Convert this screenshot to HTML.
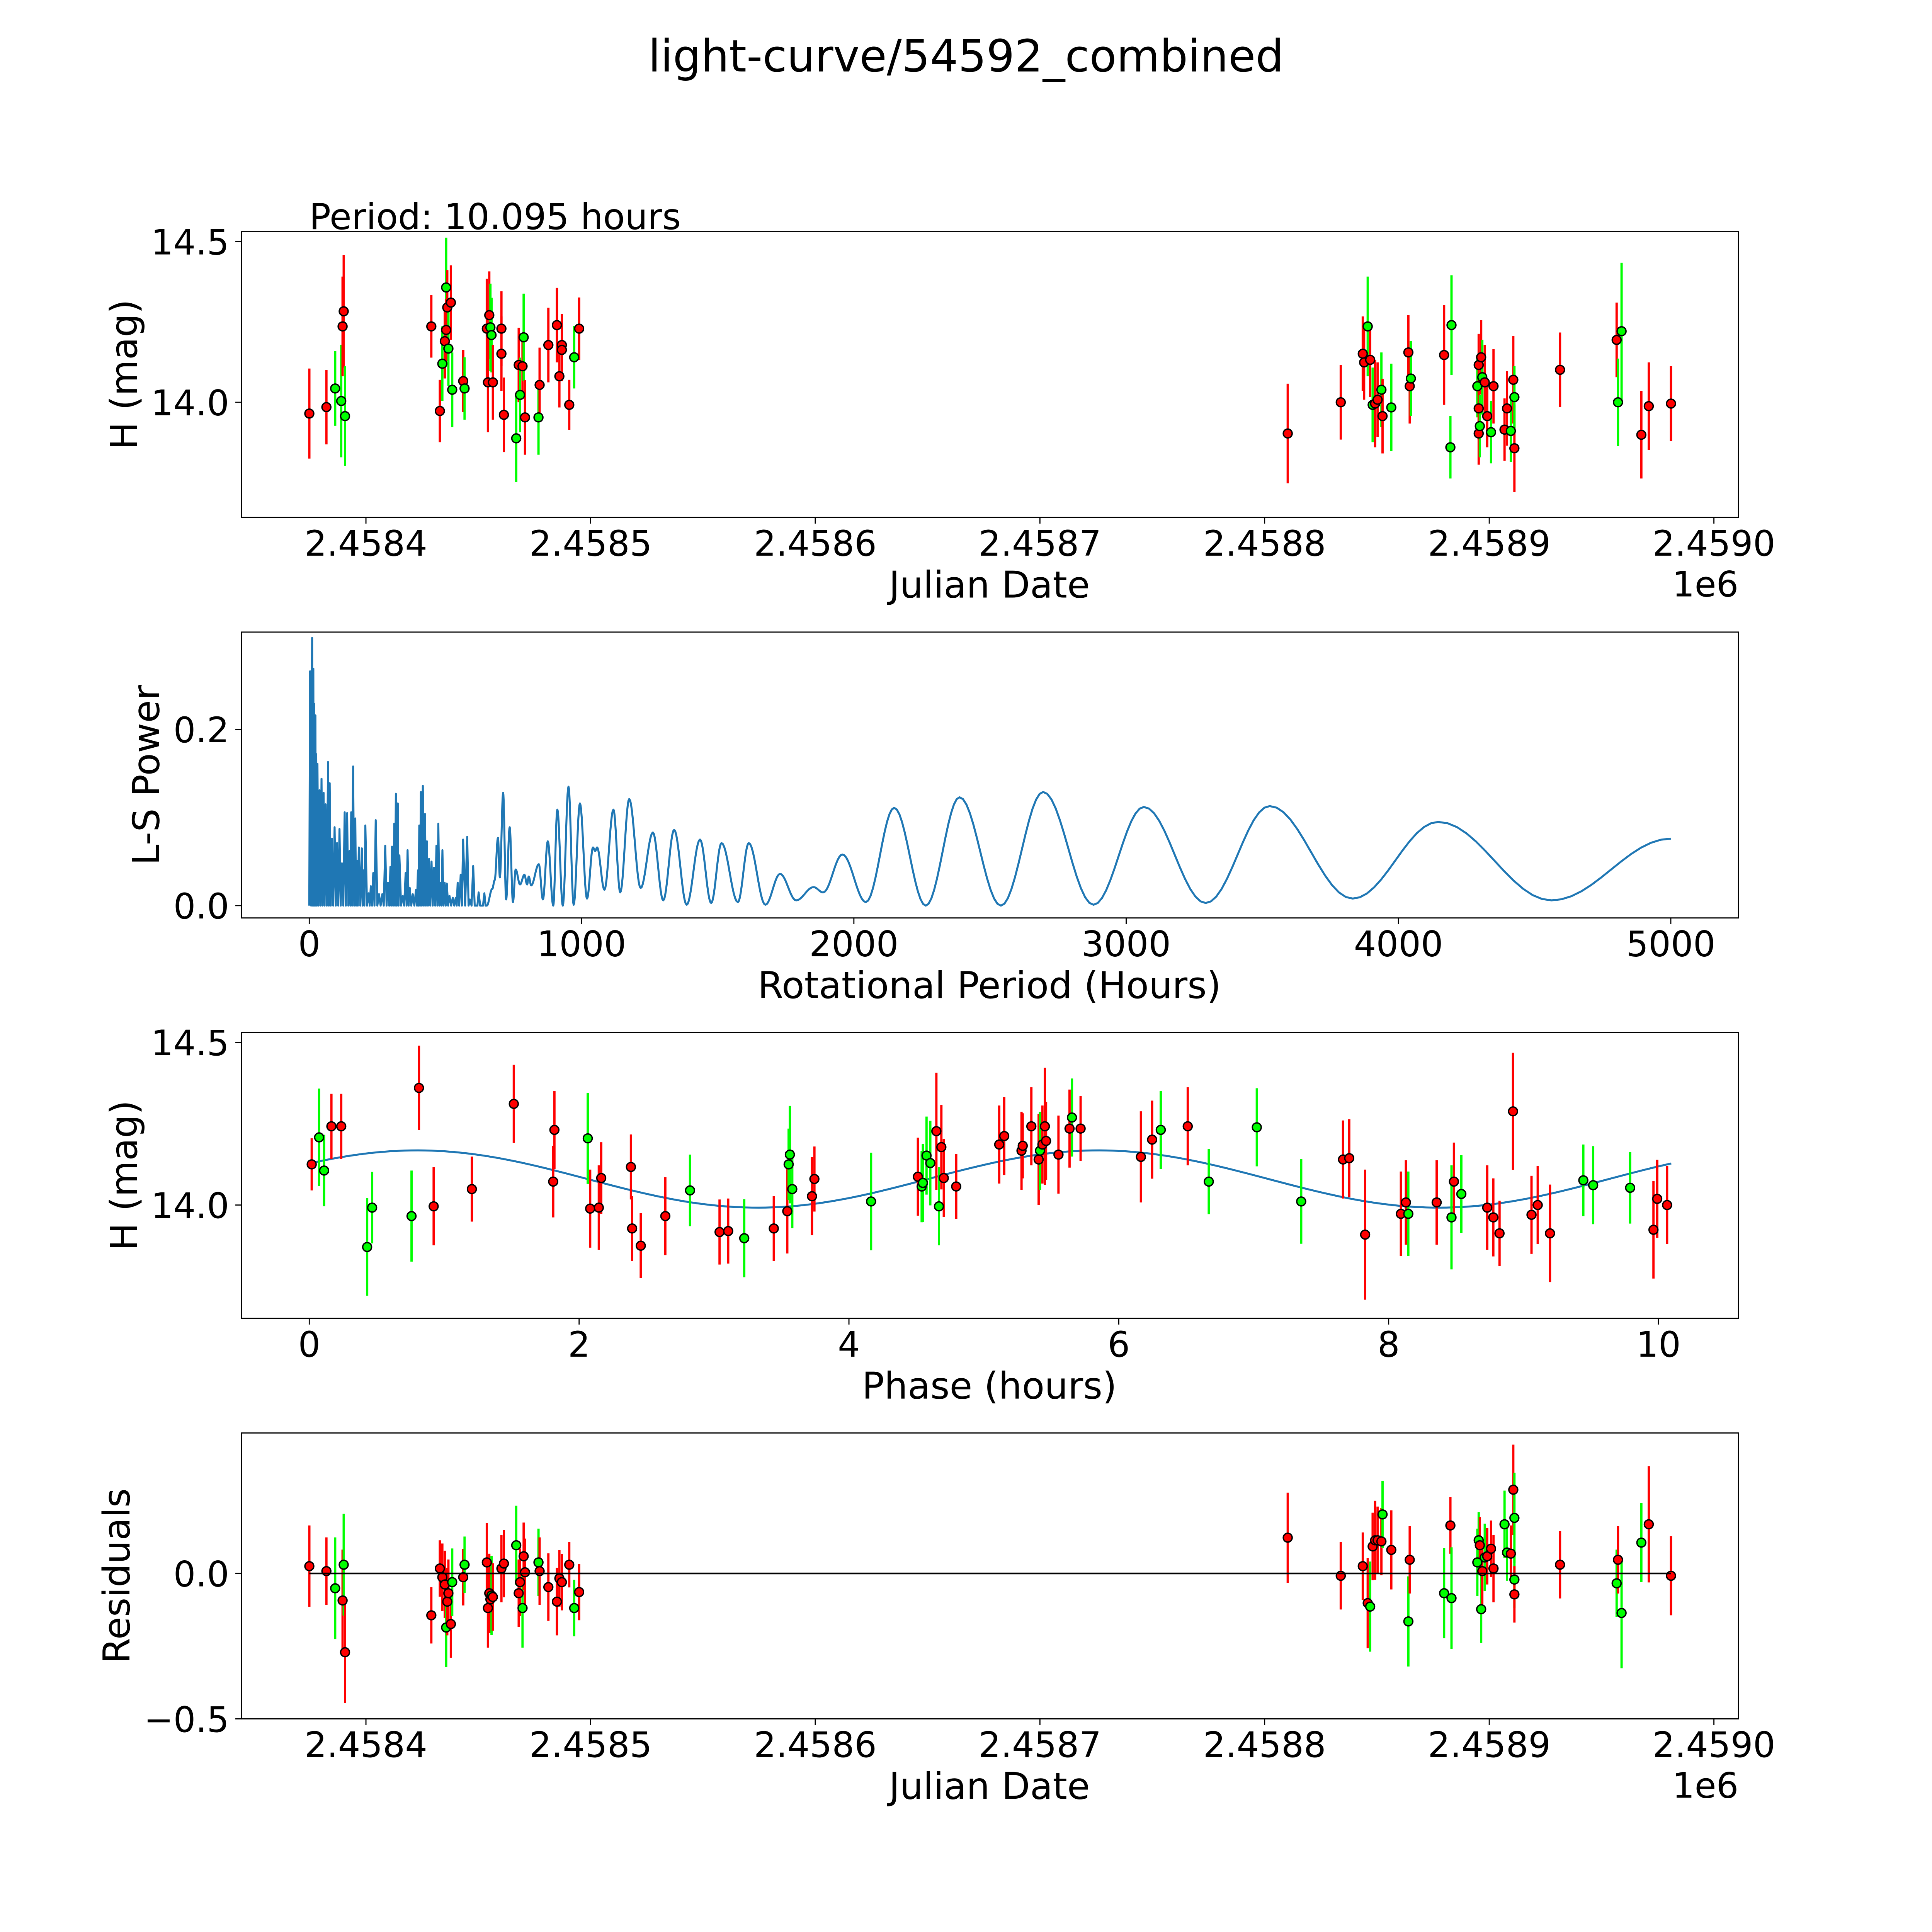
<!DOCTYPE html>
<html><head><meta charset="utf-8">
<style>
html,body{margin:0;padding:0;background:#fff;overflow:hidden;width:100vw;height:100vh;}
svg{display:block;width:100vw;height:100vh;}
text{font-family:"DejaVu Sans","Liberation Sans",sans-serif;fill:#000;}
</style></head>
<body>
<svg id="fig" xmlns="http://www.w3.org/2000/svg" viewBox="0 0 1568 1568" preserveAspectRatio="xMidYMid meet">
<rect x="0" y="0" width="1568" height="1568" fill="#fff"/>
<text x="784" y="58" font-size="36" text-anchor="middle">light-curve/54592_combined</text>
<text x="251" y="186" font-size="29">Period: 10.095 hours</text>
<g id="layer"></g>
</svg>
<script>
// ---------- Panel 1: light curve ----------
const p1Dates = [2458374.8,2458382.4,2458386.3,2458389,2458389.6,2458390.1,2458390.7,2458429.1,2458432.9,2458434,2458435.1,2458435.7,2458435.7,2458436.2,2458436.7,2458437.8,2458438.4,2458443.3,2458443.9,2458453.8,2458454.3,2458454.9,2458455.4,2458455.9,2458456.5,2458460.3,2458460.3,2458461.4,2458466.9,2458468,2458468.6,2458469.7,2458470.2,2458470.8,2458476.8,2458477.3,2458481.2,2458485,2458486.1,2458487.2,2458487.2,2458490.5,2458492.7,2458494.9,2458810.3,2458833.9,2458843.7,2458844.3,2458845.9,2458847,2458848.1,2458849.2,2458850.3,2458852,2458852.5,2458856.4,2458864,2458864.6,2458865.1,2458879.9,2458882.7,2458883.2,2458894.7,2458895.3,2458895.3,2458895.3,2458895.8,2458896.4,2458896.9,2458898,2458899.1,2458900.8,2458901.9,2458906.8,2458907.9,2458909.6,2458910.7,2458911.2,2458911.2,2458931.5,2458956.7,2458957.3,2458958.9,2458967.7,2458971,2458980.9];
const p1Mags = [13.965,13.985,14.043,14.004,14.236,14.283,13.957,14.236,13.973,14.12,14.19,14.357,14.225,14.295,14.167,14.31,14.039,14.066,14.043,14.229,14.062,14.271,14.233,14.209,14.062,14.229,14.151,13.961,13.888,14.116,14.023,14.112,14.202,13.953,13.953,14.054,14.178,14.24,14.081,14.178,14.163,13.992,14.14,14.229,13.903,14.0,14.151,14.124,14.236,14.132,13.992,13.996,14.008,14.039,13.957,13.984,14.155,14.05,14.074,14.147,13.86,14.24,14.05,14.116,13.903,13.981,13.926,14.14,14.078,14.062,13.957,13.907,14.05,13.915,13.981,13.911,14.07,13.857,14.016,14.101,14.194,14.0,14.221,13.899,13.988,13.996];
const p1Errs = [0.14,0.116,0.116,0.175,0.155,0.175,0.155,0.097,0.097,0.116,0.116,0.155,0.097,0.116,0.116,0.116,0.116,0.097,0.097,0.155,0.155,0.136,0.136,0.116,0.116,0.116,0.116,0.116,0.136,0.116,0.116,0.097,0.136,0.116,0.116,0.116,0.116,0.116,0.097,0.097,0.097,0.078,0.097,0.097,0.155,0.116,0.116,0.116,0.155,0.116,0.116,0.136,0.116,0.116,0.116,0.136,0.116,0.116,0.116,0.155,0.097,0.155,0.097,0.097,0.097,0.097,0.097,0.116,0.116,0.116,0.097,0.097,0.116,0.097,0.116,0.097,0.136,0.136,0.097,0.116,0.116,0.136,0.213,0.136,0.136,0.116];
const p1Filters = "rrggrrgrrgrgrrgrgrgrrrggrrrrgrgrgrgrrrrrrrgrrrrrgrgrrgrgrrgrgggrrrgrgrrgrrrgrrgrrggrrr".split("");

// ---------- Panel 2: periodogram ----------
const spikePeriods = [3,10.5,15,18,22.6,25.6,30,37.7,45,52.7,60,69,75,83,93,102,111,120,130,139,148,154,161,169,175,182,193,199,206,218,226,235,244,256,268,279,289,298,304,312,318,325,331,343,354,361,369,380,392,399,404,410,417,425,432,440,449,458,467,474,482,489,497,505,515,527,538,545,556,565,580,590,602,613,622,633,643];
const spikePowers = [0.266,0.304,0.269,0.229,0.216,0.172,0.161,0.131,0.144,0.128,0.115,0.163,0.139,0.076,0.089,0.071,0.087,0.048,0.106,0.105,0.062,0.106,0.158,0.099,0.051,0.066,0.065,0.04,0.091,0.014,0.022,0.037,0.097,0.013,0.013,0.068,0.026,0.044,0.067,0.093,0.127,0.116,0.057,0.011,0.037,0.063,0.02,0.013,0.018,0.04,0.091,0.129,0.136,0.104,0.073,0.053,0.05,0.043,0.068,0.093,0.026,0.063,0.026,0.025,0.011,0.009,0.009,0.026,0.035,0.075,0.078,0.007,0.045,0.0,0.015,0.0,0.014];
const smoothPeriods = [652,672,681,693,700,712,723,736,748,758,774,790,800,806,815,843,858,876,896,911,931,952,971,994,1020,1042,1050,1057,1084,1117,1142,1175,1217,1262,1300,1340,1386,1435,1476,1514,1574,1614,1675,1729,1788,1852,1887,1958,2044,2148,2264,2388,2540,2695,2880,3065,3292,3527,3832,4146,4562,5000];
const smoothPowers = [0,0.019,0.029,0.077,0.032,0.128,0.007,0.089,0.004,0.041,0.024,0.035,0.024,0.033,0.023,0.047,0.007,0.073,0,0.109,0,0.135,0.001,0.116,0.008,0.066,0.062,0.066,0.018,0.109,0.015,0.121,0.02,0.083,0.006,0.086,0.001,0.075,0.003,0.071,0.004,0.071,0.001,0.036,0.006,0.021,0.015,0.058,0.004,0.111,0,0.123,0,0.129,0.001,0.112,0.003,0.113,0.008,0.095,0.006,0.076];

// ---------- Panel 3: phase-folded ----------
const p3Phase = [0.018,0.073,0.11,0.164,0.237,0.429,0.466,0.758,0.813,0.922,1.205,1.516,1.808,1.817,2.064,2.082,2.146,2.164,2.384,2.393,2.457,2.639,2.822,3.041,3.105,3.224,3.443,3.543,3.553,3.562,3.58,3.726,3.744,4.164,4.511,4.539,4.548,4.575,4.603,4.648,4.667,4.685,4.703,4.795,5.114,5.151,5.279,5.288,5.352,5.406,5.416,5.434,5.452,5.461,5.553,5.635,5.653,5.717,6.164,6.247,6.311,6.511,6.667,7.023,7.352,7.662,7.708,7.826,8.091,8.128,8.146,8.356,8.466,8.484,8.539,8.731,8.776,8.822,8.922,9.059,9.105,9.196,9.443,9.516,9.79,9.963,9.991,10.064];
const p3Mags = [14.125,14.208,14.106,14.242,14.242,13.871,13.992,13.966,14.36,13.996,14.049,14.311,14.072,14.231,14.205,13.989,13.992,14.083,14.117,13.928,13.875,13.966,14.045,13.917,13.92,13.898,13.928,13.981,14.125,14.155,14.049,14.027,14.08,14.011,14.087,14.057,14.068,14.152,14.129,14.227,13.996,14.178,14.083,14.057,14.186,14.212,14.167,14.182,14.242,14.14,14.167,14.186,14.242,14.197,14.155,14.235,14.269,14.235,14.148,14.201,14.231,14.242,14.072,14.239,14.011,14.14,14.144,13.909,13.973,14.008,13.973,14.008,13.962,14.072,14.034,13.992,13.962,13.913,14.288,13.97,14,13.913,14.076,14.061,14.053,13.924,14.019,14];
const p3Errs = [0.08,0.15,0.11,0.1,0.1,0.15,0.11,0.14,0.13,0.12,0.1,0.12,0.11,0.12,0.14,0.12,0.13,0.11,0.1,0.1,0.1,0.12,0.11,0.1,0.1,0.12,0.1,0.13,0.11,0.15,0.12,0.12,0.1,0.15,0.12,0.11,0.12,0.12,0.13,0.18,0.12,0.13,0.12,0.1,0.12,0.12,0.12,0.1,0.12,0.14,0.12,0.12,0.18,0.12,0.12,0.12,0.12,0.1,0.14,0.12,0.12,0.12,0.1,0.12,0.13,0.12,0.12,0.2,0.13,0.13,0.13,0.13,0.16,0.12,0.12,0.13,0.12,0.1,0.18,0.12,0.12,0.15,0.11,0.12,0.11,0.15,0.12,0.12];
const p3Filters = "rggrrgggrrrrrrgrrrrrrrgrrgrrgggrrgrggggrgrrrrrrrrrgrrrrrgrrrgrgggrrrrrgrgrgrrrrrrrgggr".split("");
const fitMean = 14.08, fitAmp = 0.088, fitPeakPhase = 0.8, fitPeriod = 10.095;

// ---------- Panel 4: residuals ----------
const p4Dates = [2458374.8,2458382.4,2458386.3,2458389.6,2458390.1,2458390.7,2458429.1,2458432.9,2458434,2458435.1,2458435.7,2458436.2,2458436.7,2458437.8,2458438.4,2458443.3,2458443.9,2458453.8,2458454.3,2458454.9,2458455.4,2458455.9,2458456.5,2458460.3,2458461.4,2458466.9,2458468,2458468.6,2458469.7,2458470.2,2458470.8,2458476.8,2458477.3,2458481.2,2458485,2458486.1,2458487.2,2458490.5,2458492.7,2458494.9,2458810.3,2458833.9,2458843.7,2458845.9,2458847,2458848.1,2458849.2,2458850.3,2458852,2458852.5,2458856.4,2458864,2458864.6,2458879.9,2458882.7,2458883.2,2458894.7,2458895.3,2458895.8,2458896.4,2458896.9,2458898,2458899.1,2458900.8,2458901.9,2458906.8,2458907.9,2458909.6,2458910.7,2458911.2,2458911.2,2458911.2,2458931.5,2458956.7,2458957.3,2458958.9,2458967.7,2458971,2458980.9];
const p4Resid = [0.025,0.008,-0.051,-0.093,0.03,-0.271,-0.144,0.017,-0.013,-0.038,-0.186,-0.097,-0.068,-0.174,-0.03,-0.013,0.03,0.038,-0.119,-0.068,-0.089,-0.076,-0.081,0.017,0.034,0.097,-0.068,-0.03,-0.119,0.059,0.004,0.038,0.008,-0.047,-0.097,-0.017,-0.03,0.03,-0.119,-0.064,0.123,-0.008,0.025,-0.102,-0.114,0.093,0.114,0.114,0.11,0.203,0.081,-0.165,0.047,-0.068,0.165,-0.085,0.038,0.114,0.097,-0.123,0.008,0.055,0.059,0.085,0.017,0.169,0.072,0.068,0.288,0.191,-0.021,-0.072,0.03,-0.034,0.047,-0.136,0.106,0.169,-0.008];
const p4Errs = [0.14,0.116,0.175,0.175,0.175,0.175,0.097,0.097,0.116,0.116,0.136,0.116,0.116,0.116,0.116,0.097,0.097,0.136,0.136,0.136,0.116,0.136,0.116,0.116,0.116,0.136,0.116,0.116,0.136,0.116,0.116,0.116,0.116,0.116,0.116,0.097,0.097,0.078,0.097,0.097,0.155,0.116,0.116,0.155,0.155,0.116,0.136,0.116,0.116,0.116,0.136,0.155,0.116,0.155,0.097,0.175,0.116,0.097,0.097,0.116,0.116,0.116,0.097,0.097,0.116,0.116,0.097,0.097,0.155,0.155,0.097,0.097,0.116,0.116,0.116,0.19,0.136,0.2,0.136];
const p4Filters = "rrgrgrrrrrgrrrgrgrrrrgrrrgrrgrrgrrrrrrgrrrrrgrrrrgrgrgrgggrgrgrrrggrrggrrgrggrrr".split("");

const NS = "http://www.w3.org/2000/svg";
const layer = document.getElementById("layer");
function mk(tag, attrs, parent) {
  const el = document.createElementNS(NS, tag);
  for (const k in attrs) el.setAttribute(k, attrs[k]);
  (parent || layer).appendChild(el);
  return el;
}
function lin(d0, d1, r0, r1) { return v => r0 + (v - d0) * (r1 - r0) / (d1 - d0); }
const COLORS = { r: "#ff0000", g: "#00ff00" };
const TICK_FS = 28.5, LABEL_FS = 30;

function axesFrame(name) {
  const g = mk("g", {});
  
  
  return g;
}
function drawBox(g, L, T, R, B) {
  const r = mk("rect", { x: L, y: T, width: R - L, height: B - T, fill: "none", stroke: "#000", "stroke-width": 0.9 }, g);
  
  
}
function xTicks(g, vals, labels, sx, B, ly) {
  vals.forEach((v, i) => {
    const x = sx(v);
    const t = mk("line", { x1: x, x2: x, y1: B, y2: B + 5, stroke: "#000", "stroke-width": 0.9 }, g);
    
    
    const tx = mk("text", { x: x, y: ly, "font-size": TICK_FS, "text-anchor": "middle" }, g);
    tx.textContent = labels[i];
    
    
  });
}
function yTicks(g, vals, labels, sy, L) {
  vals.forEach((v, i) => {
    const y = sy(v);
    const t = mk("line", { x1: L - 5, x2: L, y1: y, y2: y, stroke: "#000", "stroke-width": 0.9 }, g);
    
    
    const tx = mk("text", { x: L - 10, y: y + 10.5, "font-size": TICK_FS, "text-anchor": "end" }, g);
    tx.textContent = labels[i];
    
    
  });
}
function label(g, txt, x, y, rot, name) {
  const t = mk("text", { x: x, y: y, "font-size": LABEL_FS, "text-anchor": "middle" }, g);
  if (rot) t.setAttribute("transform", "rotate(-90 " + x + " " + y + ")");
  t.textContent = txt;
  
  
}
function errPoints(g, xs, ys, es, fs, sx, sy, name) {
  xs.forEach((xv, i) => {
    const c = COLORS[fs[i]] || "#ff0000";
    const x = sx(xv);
    const l = mk("line", { x1: x, x2: x, y1: sy(ys[i] - es[i]), y2: sy(ys[i] + es[i]), stroke: c, "stroke-width": 1.85 }, g);
    
    
  });
  xs.forEach((xv, i) => {
    const c = COLORS[fs[i]] || "#ff0000";
    const p = mk("circle", { cx: sx(xv), cy: sy(ys[i]), r: 3.6, fill: c, stroke: "#000", "stroke-width": 1.1 }, g);
    
    
  });
}

const L = 196, R = 1411;
const jdTicks = [2458400, 2458500, 2458600, 2458700, 2458800, 2458900, 2459000];
const jdTickLabels = ["2.4584", "2.4585", "2.4586", "2.4587", "2.4588", "2.4589", "2.4590"];

// Panel 1
{
  const T = 188, B = 420;
  const g = axesFrame("light-curve-panel");
  const sx = lin(2458400, 2459000, 297, 1391);
  const sy = lin(14.0, 14.5, 326.5, 196);
  errPoints(g, p1Dates, p1Mags, p1Errs, p1Filters, sx, sy, "observation");
  drawBox(g, L, T, R, B);
  xTicks(g, jdTicks, jdTickLabels, sx, B, 451);
  yTicks(g, [14.0, 14.5], ["14.0", "14.5"], sy, L);
  label(g, "Julian Date", 803, 485, false, "x-axis-title");
  const e = mk("text", { x: 1411, y: 484, "font-size": TICK_FS, "text-anchor": "end" }, g);
  e.textContent = "1e6";
  
  
  label(g, "H (mag)", 111, 304, true, "y-axis-title");
}
// Panel 2
{
  const T = 513, B = 745;
  const g = axesFrame("periodogram-panel");
  const sx = lin(0, 5000, 251, 1356);
  const sy = lin(0, 0.2, 735, 592);
  const pts = [[0, 0]];
  for (let i = 0; i < spikePeriods.length; i++) {
    pts.push([spikePeriods[i], spikePowers[i]]);
    const next = i + 1 < spikePeriods.length ? spikePeriods[i + 1] : smoothPeriods[0];
    pts.push([(spikePeriods[i] + next) / 2, 0]);
  }
  for (let i = 0; i < smoothPeriods.length - 1; i++) {
    const a = smoothPowers[i], b = smoothPowers[i + 1];
    const pa = smoothPeriods[i], pb = smoothPeriods[i + 1];
    for (let k = 0; k <= 12; k++) {
      const t = k / 12;
      pts.push([pa + (pb - pa) * t, a + (b - a) * (1 - Math.cos(Math.PI * t)) / 2]);
    }
  }
  const d = pts.map((p, i) => (i ? "L" : "M") + sx(p[0]).toFixed(2) + " " + sy(p[1]).toFixed(2)).join(" ");
  const path = mk("path", { d: d, fill: "none", stroke: "#1f77b4", "stroke-width": 1.6, "stroke-linejoin": "round" }, g);
  
  
  drawBox(g, L, T, R, B);
  xTicks(g, [0, 1000, 2000, 3000, 4000, 5000], ["0", "1000", "2000", "3000", "4000", "5000"], sx, B, 776);
  yTicks(g, [0, 0.2], ["0.0", "0.2"], sy, L);
  label(g, "Rotational Period (Hours)", 803, 810, false, "x-axis-title");
  label(g, "L-S Power", 129, 629, true, "y-axis-title");
}
// Panel 3
{
  const T = 838, B = 1070;
  const g = axesFrame("phase-folded-panel");
  const sx = lin(0, 10, 251, 1346);
  const sy = lin(14.0, 14.5, 978, 846);
  let d = "";
  for (let i = 0; i <= 200; i++) {
    const ph = fitPeriod * i / 200;
    const m = fitMean + fitAmp * Math.cos(2 * Math.PI * (ph - fitPeakPhase) / (fitPeriod / 2));
    d += (i ? "L" : "M") + sx(ph).toFixed(2) + " " + sy(m).toFixed(2) + " ";
  }
  const fit = mk("path", { d: d, fill: "none", stroke: "#1f77b4", "stroke-width": 1.6 }, g);
  
  
  errPoints(g, p3Phase, p3Mags, p3Errs, p3Filters, sx, sy, "phased-observation");
  drawBox(g, L, T, R, B);
  xTicks(g, [0, 2, 4, 6, 8, 10], ["0", "2", "4", "6", "8", "10"], sx, B, 1101);
  yTicks(g, [14.0, 14.5], ["14.0", "14.5"], sy, L);
  label(g, "Phase (hours)", 803, 1135, false, "x-axis-title");
  label(g, "H (mag)", 111, 954, true, "y-axis-title");
}
// Panel 4
{
  const T = 1163, B = 1395;
  const g = axesFrame("residuals-panel");
  const sx = lin(2458400, 2459000, 297, 1391);
  const sy = lin(0, -0.5, 1277, 1395);
  errPoints(g, p4Dates, p4Resid, p4Errs, p4Filters, sx, sy, "residual");
  const z = mk("line", { x1: sx(2458374.8), x2: sx(2458980.9), y1: sy(0), y2: sy(0), stroke: "#000", "stroke-width": 1.4 }, g);
  
  
  drawBox(g, L, T, R, B);
  xTicks(g, jdTicks, jdTickLabels, sx, B, 1426);
  yTicks(g, [0, -0.5], ["0.0", "\u22120.5"], sy, L);
  label(g, "Julian Date", 803, 1460, false, "x-axis-title");
  const e = mk("text", { x: 1411, y: 1459, "font-size": TICK_FS, "text-anchor": "end" }, g);
  e.textContent = "1e6";
  
  
  label(g, "Residuals", 105, 1279, true, "y-axis-title");
}
</script>
</body></html>
